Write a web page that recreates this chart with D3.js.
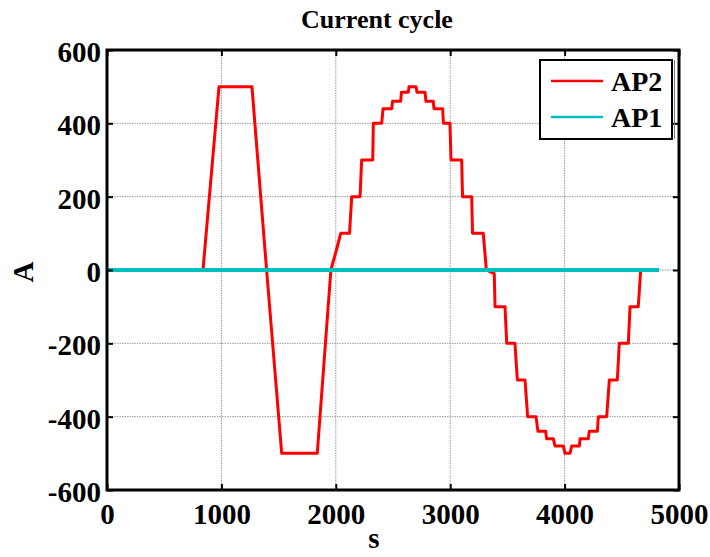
<!DOCTYPE html>
<html>
<head>
<meta charset="utf-8">
<script src="https://cdn.jsdelivr.net/npm/d3@7"></script>
<style>
  body { margin: 0; background: #fff; }
  text { font-family: "Liberation Serif", "Times New Roman", serif; font-weight: bold; }
</style>
</head>
<body>
<svg id="chart" width="710" height="557"></svg>
<script>
const margin = { top: 50, right: 31, bottom: 67, left: 107 };
const width = 710;
const height = 557;

// AP2 current (A) against time (s)
const timeS = [0, 839, 979, 1267, 1395, 1527, 1838, 1957, 2010, 2043, 2120, 2139, 2212, 2226, 2323, 2328, 2401, 2413, 2489, 2496, 2567, 2574, 2634, 2640, 2701, 2710, 2780, 2788, 2852, 2858, 2934, 2941, 2998, 3007, 3100, 3108, 3188, 3195, 3289, 3316, 3385, 3392, 3479, 3494, 3566, 3587, 3654, 3677, 3750, 3767, 3835, 3842, 3901, 3916, 3989, 4003, 4047, 4062, 4129, 4135, 4207, 4216, 4286, 4295, 4368, 4391, 4461, 4478, 4557, 4572, 4644, 4665, 4773];
const ap2A = [0, 0, 500, 500, 0, -500, -500, 0, 60, 100, 100, 200, 200, 300, 300, 400, 400, 440, 440, 460, 460, 485, 485, 500, 500, 485, 485, 460, 460, 440, 440, 400, 400, 300, 300, 200, 200, 100, 100, 0, -10, -100, -100, -200, -200, -300, -300, -400, -400, -440, -440, -460, -460, -480, -480, -500, -500, -480, -480, -460, -460, -440, -440, -400, -400, -300, -300, -200, -200, -100, -100, 0, 0];

// AP1 stays at zero
const ap1Time = [0, 4826];
const ap1A = [0, 0];

const xTicks = [0, 1000, 2000, 3000, 4000, 5000];
const yTicks = [-600, -400, -200, 0, 200, 400, 600];

const seriesNames = ["AP2", "AP1"];
const seriesColors = ["#ff0000", "#00bfbf"];

const svg = d3.select("#chart");

const x = d3.scaleLinear().domain([0, 5000]).range([margin.left, width - margin.right]);
const y = d3.scaleLinear().domain([-600, 600]).range([height - margin.bottom, margin.top]);

const plainNum = d => String(d); // keep "-600", no thousands comma

// grid
svg.append("g").selectAll("line")
  .data(xTicks.slice(1, -1))
  .join("line")
  .attr("x1", d => x(d)).attr("x2", d => x(d))
  .attr("y1", y(600)).attr("y2", y(-600))
  .attr("stroke", "#9a9a9a").attr("stroke-width", 1).attr("stroke-dasharray", "1.5,1");
svg.append("g").selectAll("line")
  .data(yTicks.slice(1, -1))
  .join("line")
  .attr("x1", x(0)).attr("x2", x(5000))
  .attr("y1", d => y(d)).attr("y2", d => y(d))
  .attr("stroke", "#9a9a9a").attr("stroke-width", 1).attr("stroke-dasharray", "1.5,1");

// data lines
const line = d3.line().x(d => x(d[0])).y(d => y(d[1]));

svg.append("path")
  .datum(d3.zip(timeS, ap2A))
  .attr("fill", "none")
  .attr("stroke", seriesColors[0])
  .attr("stroke-width", 3)
  .attr("stroke-linejoin", "round")
  .attr("d", line);

svg.append("path")
  .datum(d3.zip(ap1Time, ap1A))
  .attr("fill", "none")
  .attr("stroke", seriesColors[1])
  .attr("stroke-width", 4)
  .attr("d", line);

// axes (ticks inward, on all four sides)
const tickLen = 6;
svg.append("g")
  .attr("transform", `translate(0,${y(-600)})`)
  .call(d3.axisBottom(x).tickValues(xTicks).tickFormat(plainNum).tickSize(-tickLen).tickPadding(13))
  .call(g => g.select(".domain").remove())
  .call(g => g.selectAll("text").attr("font-size", 29).attr("fill", "#000").attr("dy", "0.71em"));

svg.append("g")
  .attr("transform", `translate(${x(0)},0)`)
  .call(d3.axisLeft(y).tickValues(yTicks).tickFormat(plainNum).tickSize(-tickLen).tickPadding(6))
  .call(g => g.select(".domain").remove())
  .call(g => g.selectAll("text").attr("font-size", 29).attr("fill", "#000").attr("dy", "0.4em"));

svg.append("g")
  .attr("transform", `translate(0,${y(600)})`)
  .call(d3.axisTop(x).tickValues(xTicks).tickSize(-tickLen).tickFormat(""))
  .call(g => g.select(".domain").remove());

svg.append("g")
  .attr("transform", `translate(${x(5000)},0)`)
  .call(d3.axisRight(y).tickValues(yTicks).tickSize(-tickLen).tickFormat(""))
  .call(g => g.select(".domain").remove());

svg.selectAll(".tick line").attr("stroke", "#000").attr("stroke-width", 2);

// box
svg.append("rect")
  .attr("x", x(0)).attr("y", y(600))
  .attr("width", x(5000) - x(0)).attr("height", y(-600) - y(600))
  .attr("fill", "none").attr("stroke", "#000").attr("stroke-width", 3);

// title and labels
svg.append("text")
  .attr("x", 377).attr("y", 28)
  .attr("text-anchor", "middle").attr("font-size", 26)
  .text("Current cycle");

svg.append("text")
  .attr("x", 374).attr("y", 548)
  .attr("text-anchor", "middle").attr("font-size", 29)
  .text("s");

svg.append("text")
  .attr("transform", "translate(33,272) rotate(-90)")
  .attr("text-anchor", "middle").attr("font-size", 29)
  .text("A");

// legend
const legend = svg.append("g");
legend.append("rect")
  .attr("x", 540).attr("y", 60).attr("width", 132).attr("height", 79)
  .attr("fill", "#fff").attr("stroke", "#000").attr("stroke-width", 2);
legend.append("line")
  .attr("x1", 674.5).attr("x2", 674.5).attr("y1", 60).attr("y2", 139)
  .attr("stroke", "#777").attr("stroke-width", 1);

seriesNames.forEach((name, i) => {
  const ly = 81 + i * 36;
  legend.append("line")
    .attr("x1", 551).attr("x2", 603).attr("y1", ly).attr("y2", ly)
    .attr("stroke", seriesColors[i]).attr("stroke-width", 2.5);
  legend.append("text")
    .attr("x", 611).attr("y", ly + 10)
    .attr("font-size", 28)
    .text(name);
});
</script>
</body>
</html>
